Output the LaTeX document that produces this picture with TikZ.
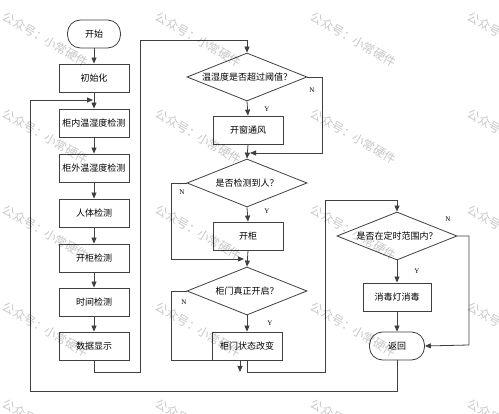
\documentclass[tikz,border=0pt]{standalone}
\usepackage{fontspec}
\newfontfamily\cjk{Noto Sans CJK SC}
\setmainfont{Liberation Serif}
\usetikzlibrary{arrows.meta,shapes.geometric}
\tikzset{
  ln/.style={draw=black!75, line width=0.8pt},
  arr/.style={ln, -{Triangle[length=6pt,width=5pt]}},
  box/.style={ln, rectangle, minimum width=70pt, minimum height=28pt, inner sep=0pt, font=\cjk\fontsize{9}{10}\selectfont},
  term/.style={ln, rectangle, rounded corners=13pt, minimum height=28pt, inner sep=0pt, font=\cjk\fontsize{9}{10}\selectfont},
  dia/.style={ln, diamond, aspect=2.5, minimum width=120pt, minimum height=48pt, inner sep=0pt, font=\cjk\fontsize{9}{10}\selectfont},
  yn/.style={font=\fontsize{7}{8}\selectfont, inner sep=0pt},
  wm/.style={font=\cjk\fontsize{12}{12}\selectfont, text=black, opacity=0.22, rotate=-30, anchor=west, inner sep=0pt}
}
\begin{document}
\begin{tikzpicture}[x=1pt,y=-1pt]
\useasboundingbox (0,0) rectangle (499,414);
\fill[white] (0,0) rectangle (499,414);
% left column
\node[term, minimum width=53pt] (start) at (94,34) {开始};
\node[box] (init) at (94,78) {初始化};
\node[box] (b1) at (94,123) {柜内温湿度检测};
\node[box] (b2) at (94,168) {柜外温湿度检测};
\node[box] (b3) at (94,213) {人体检测};
\node[box] (b4) at (94,258) {开柜检测};
\node[box] (b5) at (94,302) {时间检测};
\node[box] (b6) at (94,346) {数据显示};
% middle column
\node[dia] (d1) at (247,77) {温湿度是否超过阈值？};
\node[box] (fan) at (248,130) {开窗通风};
\node[dia] (d2) at (247,183) {是否检测到人？};
\node[box] (kg) at (248,236) {开柜};
\node[dia] (d3) at (247,291) {柜门真正开启？};
\node[box] (gm) at (247,346) {柜门状态改变};
% right column
\node[dia] (d4) at (397,236) {是否在定时范围内？};
\node[box, minimum width=68pt] (xd) at (397,297) {消毒灯消毒};
\node[term, minimum width=55pt] (ret) at (397,346) {返回};
% labels
\node[yn] (y1) at (267,109) {Y};
\node[yn] (n1) at (312,90) {N};
\node[yn] (y2) at (267,211) {Y};
\node[yn] (n2) at (182,192) {N};
\node[yn] (y3) at (270,323) {Y};
\node[yn] (n3) at (184,302) {N};
\node[yn] (y4) at (417,271) {Y};
\node[yn] (n4) at (448,219) {N};
% coordinates
\coordinate (lb) at (30,391);
\coordinate (lt) at (30,100);
\coordinate (lj) at (93,100);
\coordinate (c1) at (140,372);
\coordinate (c2) at (140,40);
\coordinate (r1) at (322,153);
\coordinate (j1) at (250,153);
\coordinate (l2) at (171,259);
\coordinate (j2) at (244,259);
\coordinate (l3) at (171,360);
\coordinate (j3a) at (240,360);
\coordinate (j3b) at (240,372);
\coordinate (m1) at (247,372);
\coordinate (m2) at (325,372);
\coordinate (m3) at (325,200);
\coordinate (r4) at (469,345);
% left connectors
\draw[arr] (start) -- (init);
\draw[arr] (init) -- (b1);
\draw[arr] (b1) -- (b2);
\draw[arr] (b2) -- (b3);
\draw[arr] (b3) -- (b4);
\draw[arr] (b4) -- (b5);
\draw[arr] (b5) -- (b6);
\draw[arr] (ret.south) |- (lb) -- (lt) -- (lj);
\draw[arr] (b6.south) |- (c1) -- (c2) -| (d1.north);
% middle connectors
\draw[arr] (d1.south) -- (fan.north);
\draw[arr] (fan.south) -- (d2.north);
\draw[arr] (d1.east) -| (r1) -- (j1);
\draw[arr] (d2.south) -- (kg.north);
\draw[arr] (kg.south) -- (d3.north);
\draw[arr] (d2.west) -| (l2) -- (j2);
\draw[arr] (d3.south) -- (gm.north);
\draw[arr] (d3.west) -| (l3) -- (j3a) -- (j3b);
\draw[arr] (gm.south) -- (m1) -- (m2) -- (m3) -| (d4.north);
% right connectors
\draw[arr] (d4.south) -- (xd.north);
\draw[arr] (xd.south) -- (ret.north);
\draw[arr] (d4.east) -| (r4) -- (ret.east);
% watermarks
\foreach \wx in {4,157,312,469} {
  \foreach \wy in {15,112,208,305,402} {
    \node[wm] at (\wx,\wy) {公众号：小常硬件};
  }
}
\end{tikzpicture}
\end{document}
